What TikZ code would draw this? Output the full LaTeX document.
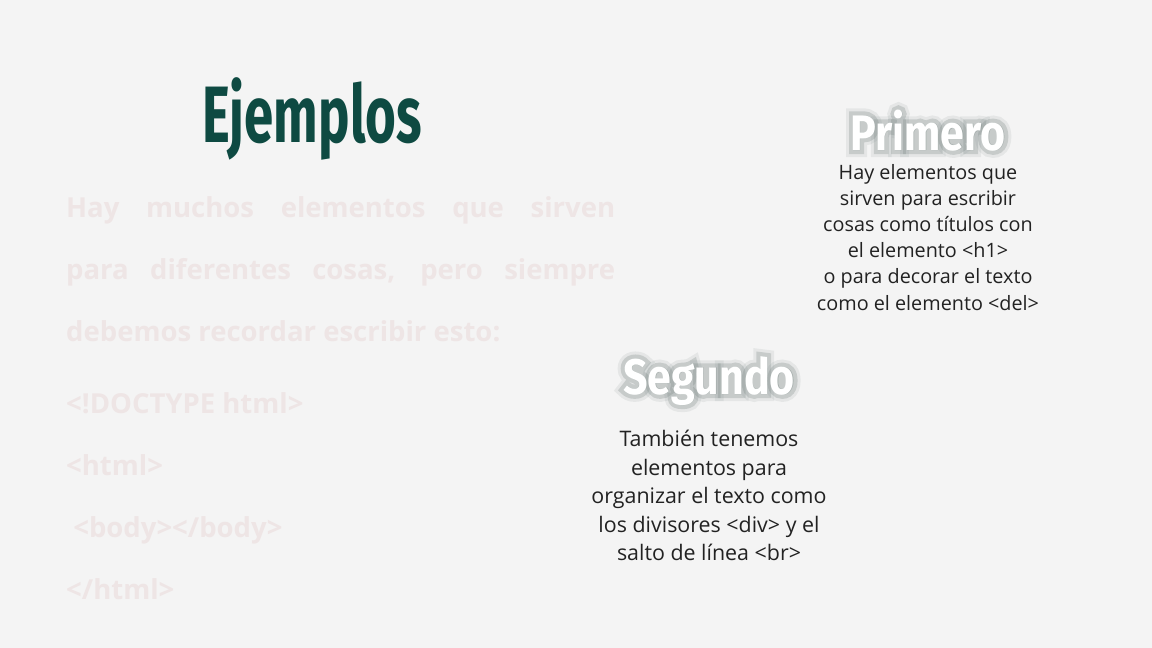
\documentclass[tikz,border=0pt]{standalone}
\usepackage{fontspec}
\setmainfont{Open Sans}
\newfontfamily\headfont[FakeStretch=0.66]{Fira Sans}
\newfontfamily\subfont[FakeStretch=0.86]{Fira Sans}
\newfontfamily\halofont[FakeStretch=0.86,FakeBold=16]{Fira Sans}
\newfontfamily\wideglowfont[FakeStretch=0.86,FakeBold=28]{Fira Sans}
\usetikzlibrary{positioning}
\definecolor{bgcol}{HTML}{F4F4F4}
\definecolor{headgreen}{HTML}{0E4A42}
\definecolor{fadedcol}{HTML}{EEE5E5}
\definecolor{bodycol}{HTML}{222222}
\definecolor{glowcol}{HTML}{7A8784}

\begin{document}
\begin{tikzpicture}[x=1pt,y=-1pt,
	faded/.style={anchor=base west,inner sep=0pt,text=fadedcol,font=\fontsize{27.5}{30}\selectfont\bfseries},
	subhead/.style={anchor=base,inner sep=0pt,text=white,font=\subfont\bfseries\fontsize{50}{50}\selectfont},
	glow/.style={anchor=base,inner sep=0pt,text=glowcol,opacity=.28,font=\halofont\bfseries\fontsize{50}{50}\selectfont},
	wideglow/.style={glow,opacity=.12,font=\wideglowfont\bfseries\fontsize{50}{50}\selectfont},
	bodytext/.style={anchor=base,inner sep=0pt,text=bodycol,font=\fontsize{#1}{26}\selectfont}]

\fill [bgcol] (0,0) rectangle (1152,648);
\useasboundingbox (0,0) rectangle (1152,648);

\node [anchor=base,inner sep=0pt,text=headgreen,font=\headfont\bfseries\fontsize{80}{80}\selectfont] (title) at (312,142) {Ejemplos};

% faded paragraph
\node [faded] (par1) at (66,217) {\makebox[549pt][s]{Hay muchos elementos que sirven}};
\node [faded] (par2) at (66,279) {\makebox[549pt][s]{para diferentes cosas, pero siempre}};
\node [faded] (par3) at (66,341) {debemos recordar escribir esto:};

\foreach \t [count=\i] in {<!DOCTYPE html>,<html>,\ <body></body>,</html>} {
	\node [faded] (code\i) at (66,351+62*\i) {\t};
}

%%%%%%%%%%%%%%%%%%%%%%%%%%%%%%%%%%%%%%%%%%%%%%%%%%%%%%%%%%%%%%%%

\node [wideglow] (primerohalo) at (928,150) {Primero};
\node [glow] (primeroglow) at (primerohalo.base) {Primero};
\node [subhead] (primero) at (primeroglow.base) {Primero};

\foreach \t [count=\i] in {Hay elementos que,sirven para escribir,cosas como títulos con,el elemento <h1>,o para decorar el texto,como el elemento <del>} {
	\node [bodytext=19.8] (pri\i) at (928,152.8+26.2*\i) {\t};
}

%%%%%%%%%%%%%%%%%%%%%%%%%%%%%%%%%%%%%%%%%%%%%%%%%%%%%%%%%%%%%%%%

\node [wideglow] (segundohalo) at (709,394) {Segundo};
\node [glow] (segundoglow) at (segundohalo.base) {Segundo};
\node [subhead] (segundo) at (segundoglow.base) {Segundo};

\foreach \t [count=\i] in {También tenemos,elementos para,organizar el texto como,los divisores <div> y el,salto de línea <br>} {
	\node [bodytext=21.4] (seg\i) at (709,418+28.5*\i) {\t};
}

\end{tikzpicture}
\end{document}
